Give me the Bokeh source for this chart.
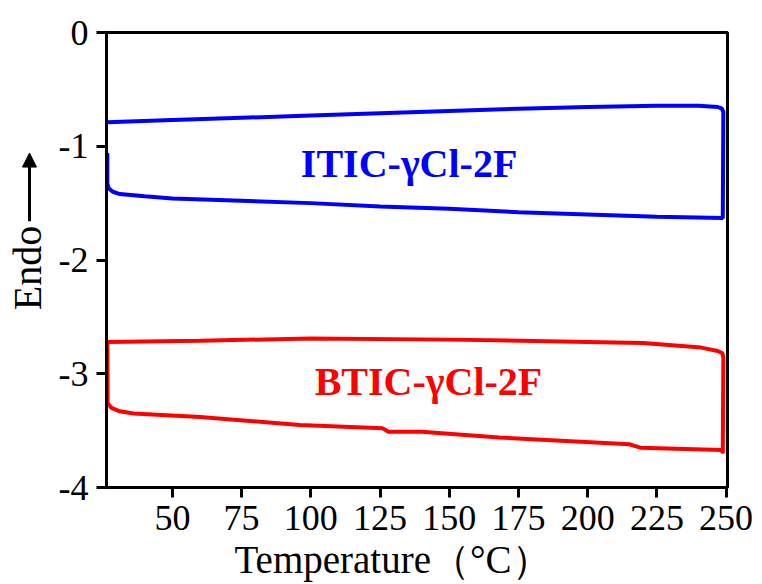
from bokeh.plotting import figure
from bokeh.layouts import row
from bokeh.models import Arrow, NormalHead, FixedTicker, Range1d, Title
from bokeh.core.properties import value
from bokeh.embed import file_html
from bokeh.resources import INLINE

# ---- data ----
itic_T = [26.5, 26.5, 27.0, 28.5, 31, 40, 50, 75, 100, 125, 150, 175, 200, 225, 248.8,
          249.0, 248.5, 247, 240, 225, 200, 175, 150, 125, 100, 75, 50, 26.5]
itic_Y = [-1.06, -1.33, -1.37, -1.40, -1.42, -1.44, -1.46, -1.48, -1.50, -1.53, -1.55, -1.58, -1.60, -1.62, -1.63,
          -0.70, -0.67, -0.655, -0.645, -0.645, -0.655, -0.67, -0.69, -0.71, -0.73, -0.75, -0.77, -0.79]

btic_T = [26.5, 26.6, 28, 31, 36, 60, 96, 126, 128, 140, 168, 215, 219, 248.5, 248.8,
          249.0, 248.7, 247, 241, 220, 200, 150, 100, 60, 26.5]
btic_Y = [-2.72, -3.26, -3.30, -3.33, -3.35, -3.38, -3.45, -3.48, -3.51, -3.51, -3.56, -3.62, -3.65, -3.67, -3.70,
          -2.86, -2.82, -2.80, -2.77, -2.73, -2.72, -2.70, -2.69, -2.71, -2.72]

x_ticks = [50, 75, 100, 125, 150, 175, 200, 225, 250]
x_tick_labels = ["50", "75", "100", "125", "150", "175", "200", "225", "250"]
y_ticks = [0, -1, -2, -3, -4]
y_tick_labels = ["0", "-1", "-2", "-3", "-4"]

names = ["ITIC-γCl-2F", "BTIC-γCl-2F"]
x_label = "Temperature（°C）"
y_label = "Endo"

FONT = "Liberation Serif"

yr = Range1d(-4, 0)

# ---- main plot ----
p = figure(width=712, height=584, output_backend="svg", toolbar_location=None,
           x_range=Range1d(26.2, 250.5), y_range=yr,
           min_border_left=56, min_border_right=35, min_border_top=32, min_border_bottom=97)

p.line(itic_T, itic_Y, line_color="#0000ff", line_width=4)
p.line(btic_T, btic_Y, line_color="#ff0000", line_width=4)

p.text(x=[135.5], y=[-1.15], text=[names[0]], text_color="#0000ff",
       text_font=value(FONT), text_font_style="bold", text_font_size="40px",
       text_align="center", text_baseline="middle")
p.text(x=[142.5], y=[-3.07], text=[names[1]], text_color="#ff0000",
       text_font=value(FONT), text_font_style="bold", text_font_size="40px",
       text_align="center", text_baseline="middle")

p.grid.visible = False
p.outline_line_color = "black"
p.outline_line_width = 3
p.outline_line_alpha = 1

for ax in (p.xaxis[0], p.yaxis[0]):
    ax.axis_line_width = 3
    ax.major_tick_line_width = 3
    ax.major_tick_out = 10
    ax.major_tick_in = 0
    ax.minor_tick_line_color = None
    ax.major_label_text_font = FONT
    ax.major_label_text_font_size = "36px"
    ax.major_label_text_color = "black"

p.xaxis.ticker = FixedTicker(ticks=x_ticks)
p.xaxis.major_label_overrides = dict(zip(x_ticks, x_tick_labels))
p.xaxis.major_label_standoff = 8
p.yaxis.ticker = FixedTicker(ticks=y_ticks)
p.yaxis.major_label_overrides = dict(zip(y_ticks, y_tick_labels))
p.yaxis.major_label_standoff = 8

p.add_layout(Title(text=x_label, align="left", offset=128, text_font=FONT,
                   text_font_size="39px", text_font_style="normal", text_color="black",
                   standoff=6), "below")

# ---- side strip with the "Endo" label and arrow ----
side = figure(width=50, height=584, output_backend="svg", toolbar_location=None,
              x_range=Range1d(0, 50), y_range=yr,
              x_axis_location=None, y_axis_location=None,
              min_border_left=0, min_border_right=0, min_border_top=32, min_border_bottom=97)
side.grid.visible = False
side.outline_line_color = None
side.text(x=[27], y=[-2.07], text=[y_label], angle=1.5708, text_color="black",
          text_font=value(FONT), text_font_size="40px",
          text_align="center", text_baseline="middle")
side.add_layout(Arrow(x_start=29, y_start=-1.66, x_end=29, y_end=-1.06, line_width=3,
                      end=NormalHead(size=14, fill_color="black", line_color="black")))

layout = row(side, p, spacing=0)
open("out.html", "w").write(file_html(layout, INLINE))
